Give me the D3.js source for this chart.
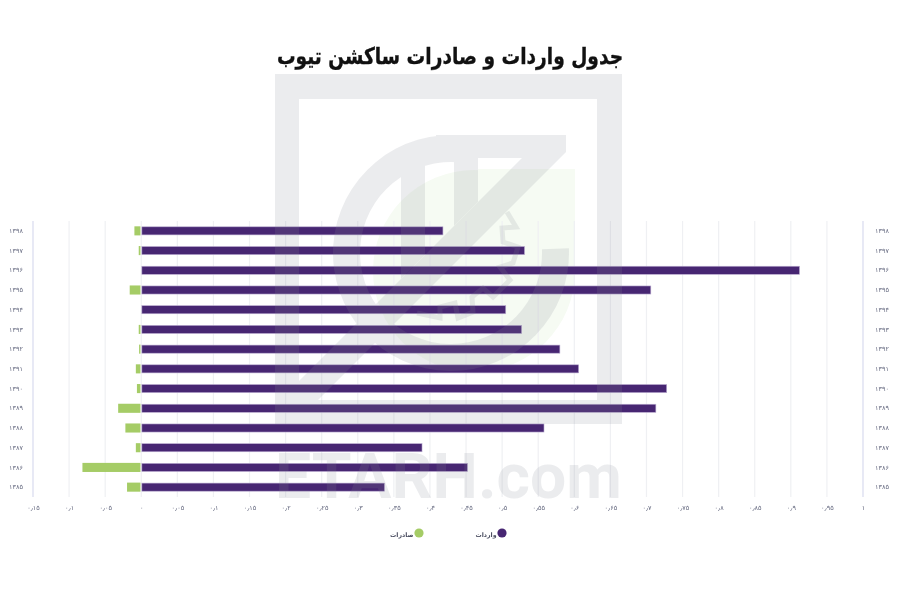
<!DOCTYPE html>
<html lang="fa"><head><meta charset="utf-8">
<script src="https://cdn.jsdelivr.net/npm/d3@7/dist/d3.min.js"></script>
<style>html,body{margin:0;background:#fff}svg{display:block;filter:blur(.35px)}</style>
</head><body><div id="chart"></div>
<script>
const chartTitle = "جدول واردات و صادرات ساکشن تیوب";
const years = [1398,1397,1396,1395,1394,1393,1392,1391,1390,1389,1388,1387,1386,1385];
const imports = [0.418,0.531,0.912,0.706,0.505,0.527,0.580,0.606,0.728,0.713,0.558,0.389,0.452,0.337];
const exportsV = [0.0095,0.0035,0,0.016,0,0.0035,0.003,0.0075,0.006,0.032,0.022,0.0075,0.0815,0.0197];
const tickValues = [-0.15,-0.1,-0.05,0,0.05,0.1,0.15,0.2,0.25,0.3,0.35,0.4,0.45,0.5,0.55,0.6,0.65,0.7,0.75,0.8,0.85,0.9,0.95,1];
const seriesNames = ["واردات","صادرات"];
const seriesColors = ["#472672","#a5cc66"];

const fa = s => String(s).replace(/\d/g,d=>"۰۱۲۳۴۵۶۷۸۹"[d]).replace(".","٫");
const fmt = v => fa(+Math.abs(v).toFixed(2));

const svg = d3.select("#chart").append("svg").attr("width",900).attr("height",600);
const x = d3.scaleLinear().domain([-0.15,1]).range([33,863]);
const y = d3.scaleBand().domain(years).range([221,497]).paddingInner(0.59).paddingOuter(0.295);

// pale green layer behind
const wmBack = svg.append("g").attr("fill","#f6fbf3");
wmBack.append("circle").attr("cx",474).attr("cy",271).attr("r",101);
wmBack.append("rect").attr("x",478).attr("y",169).attr("width",97).attr("height",105);

// gridlines
const grid = svg.append("g");
grid.selectAll("line").data(tickValues).join("line")
  .attr("x1",d=>x(d)).attr("x2",d=>x(d)).attr("y1",221).attr("y2",497)
  .attr("stroke",d=>(d===-0.15||d===1)?"#e2e4f3":"#eff0f3").attr("stroke-width",d=>(d===-0.15||d===1)?1.6:1.2);

// bars
const rows = years.map((yr,i)=>({yr,imp:imports[i],exp:exportsV[i]}));
svg.append("g").selectAll("rect").data(rows.filter(d=>d.exp>0)).join("rect")
  .attr("x",d=>x(-d.exp)).attr("width",d=>x(0)-x(-d.exp)-0.8)
  .attr("y",d=>y(d.yr)-0.5).attr("height",y.bandwidth()+1).attr("fill",seriesColors[1]);
svg.append("g").selectAll("rect").data(rows).join("rect")
  .attr("x",x(0)+0.6).attr("width",d=>x(d.imp)-x(0)-0.6)
  .attr("y",d=>y(d.yr)).attr("height",y.bandwidth()).attr("fill",seriesColors[0])
  .attr("stroke","#b9abd0").attr("stroke-width",.6);

// watermark on top
const wm = svg.append("g").attr("opacity",.16).attr("fill","#858a96");
wm.append("path").attr("fill-rule","evenodd").attr("d","M275 74H622V424H275ZM299 99V400H597V99Z");
wm.append("path").attr("transform","translate(451,253)")
  .attr("d",d3.arc().innerRadius(91).outerRadius(118).startAngle(Math.PI/2-0.04).endAngle(2*Math.PI+0.12)());
wm.append("path").attr("d","M566 135V152L318 400H280L522 158H436V135Z");
wm.append("path").attr("d","M401 168L425 157V255L401 279Z");
wm.append("path").attr("d","M454 157H478V202L454 226Z");
wm.append("path").attr("fill","none").attr("stroke","#858a96").attr("stroke-width",5)
  .attr("d","M507 212L516 227L502 228L503 242L518 247L513 263L500 267L510 280L493 297L483 288L472 297L473 312L458 318L455 303L440 307L440 318L417 313");
wm.append("text").attr("x",275).attr("y",498).attr("textLength",347).attr("lengthAdjust","spacingAndGlyphs")
  .attr("font-family","Roboto, Open Sans, sans-serif").attr("font-weight",700).attr("font-size",63).attr("fill","#858a96").text("ETARH.com");

// axes
const axB = d3.axisBottom(x).tickValues(tickValues).tickFormat(fmt).tickSize(0).tickPadding(8);
const gB = svg.append("g").attr("transform","translate(0,497)").call(axB);
const axL = d3.axisLeft(y).tickFormat(fa).tickSize(0).tickPadding(10);
const gL = svg.append("g").attr("transform","translate(33,0)").call(axL);
const axR = d3.axisRight(y).tickFormat(fa).tickSize(0).tickPadding(12);
const gR = svg.append("g").attr("transform","translate(863,0)").call(axR);
[gB,gL,gR].forEach(g=>{g.select(".domain").remove();
  g.selectAll("text").attr("font-family","DejaVu Sans, Noto Sans, sans-serif").attr("font-size",6.5).attr("fill","#666a80");});

// legend
const legend = svg.append("g");
const lx = [502,419];
legend.selectAll("circle").data(seriesNames).join("circle")
  .attr("cx",(d,i)=>lx[i]).attr("cy",533).attr("r",4.6).attr("fill",(d,i)=>seriesColors[i]);
legend.selectAll("text").data(seriesNames).join("text")
  .attr("x",(d,i)=>lx[i]-5.5).attr("y",536.5).attr("text-anchor","end")
  .attr("font-family","DejaVu Sans, sans-serif").attr("font-weight",700).attr("font-size",6.2).attr("fill","#4a4d60").text(d=>d);

// title
svg.append("text").attr("transform","translate(450,64) scale(.81,1)").attr("text-anchor","middle")
  .attr("font-family","DejaVu Sans, Noto Sans, sans-serif").attr("font-weight",700).attr("font-size",23)
  .attr("fill","#111").attr("stroke","#111").attr("stroke-width",.35).text(chartTitle);
</script></body></html>
